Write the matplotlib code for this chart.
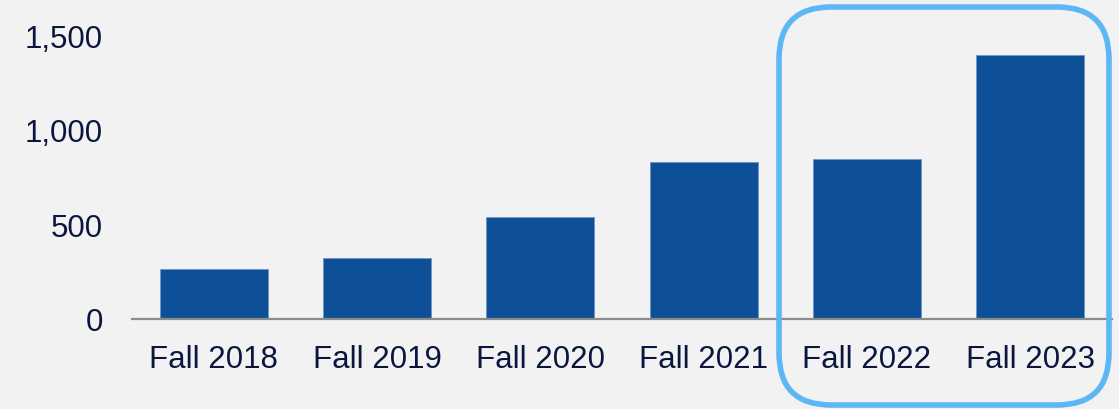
import matplotlib
matplotlib.use("Agg")
import matplotlib.pyplot as plt
from matplotlib.patches import FancyBboxPatch
from matplotlib.ticker import FuncFormatter

categories = ["Fall 2018", "Fall 2019", "Fall 2020", "Fall 2021", "Fall 2022", "Fall 2023"]
values = [262, 322, 536, 831, 845, 1396]
yticks = [0, 500, 1000, 1500]

bg = "#F2F2F2"
bar_color = "#0E5097"
text_color = "#0B163F"

plt.rcParams["font.family"] = ["Liberation Sans", "DejaVu Sans"]

fig = plt.figure(figsize=(11.19, 4.10), dpi=100, facecolor=bg)
ax = fig.add_axes([0.118, 0.2207, 0.8758, 0.7793])
ax.set_facecolor(bg)
x = list(range(len(categories)))
ax.bar(x, values, width=0.66, color=bar_color, edgecolor="#6F95C4", linewidth=0.6)
ax.set_xlim(-0.5, len(categories) - 0.5)
ax.set_ylim(0, 1693)
ax.set_xticks(x)
ax.set_xticklabels(categories)
ax.set_yticks(yticks)
ax.yaxis.set_major_formatter(FuncFormatter(lambda v, p: f"{int(v):,}"))
for s in ["top", "right", "left"]:
    ax.spines[s].set_visible(False)
ax.spines["bottom"].set_color("#8C8C8C")
ax.spines["bottom"].set_linewidth(1.6)
ax.tick_params(axis="both", length=0, labelsize=22.5, colors=text_color)
ax.tick_params(axis="y", pad=21)
ax.tick_params(axis="x", pad=18)

# overlay for highlight box in pixel coordinates
ov = fig.add_axes([0, 0, 1, 1], facecolor="none")
ov.set_xlim(0, 1119)
ov.set_ylim(410, 0)
ov.axis("off")
box = FancyBboxPatch((779, 8), 330, 398,
                     boxstyle="round,pad=0,rounding_size=52",
                     fill=False, edgecolor="#5BB8F5", linewidth=4.0)
ov.add_patch(box)

fig.savefig("out.png", dpi=100, facecolor=bg)
